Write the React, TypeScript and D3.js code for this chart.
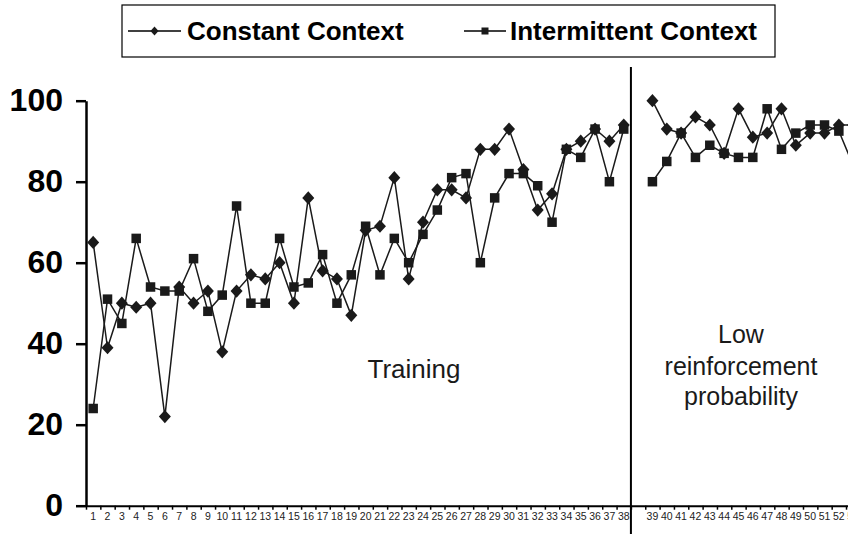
import { useEffect, useRef } from "react"
import * as d3 from "d3"

// session labels (a blank slot sits between the two phases)
const trainingSessions = ["1","2","3","4","5","6","7","8","9","10","11","12","13","14","15","16","17","18","19","20","21","22","23","24","25","26","27","28","29","30","31","32","33","34","35","36","37","38"]
const lowSessions = ["39","40","41","42","43","44","45","46","47","48","49","50","51","52","53"]

const constantTraining = [65, 39, 50, 49, 50, 22, 54, 50, 53, 38, 53, 57, 56, 60, 50, 76, 58, 56, 47, 68, 69, 81, 56, 70, 78, 78, 76, 88, 88, 93, 83, 73, 77, 88, 90, 93, 90, 94]
const intermittentTraining = [24, 51, 45, 66, 54, 53, 53, 61, 48, 52, 74, 50, 50, 66, 54, 55, 62, 50, 57, 69, 57, 66, 60, 67, 73, 81, 82, 60, 76, 82, 82, 79, 70, 88, 86, 93, 80, 93]
const constantLow = [100, 93, 92, 96, 94, 87, 98, 91, 92, 98, 89, 92, 92, 94, 94]
const intermittentLow = [80, 85, 92, 86, 89, 87, 86, 86, 98, 88, 92, 94, 94, 92.5, 84]

const yTicks = [0, 20, 40, 60, 80, 100]

const W = 848
const H = 534
const font = "Arial, 'Liberation Sans', sans-serif"

const App = () => {
  const svgRef = useRef(null)

  useEffect(() => {
    const svg = d3.select(svgRef.current)
    svg.selectAll("*").remove()

    const left = 86
    const step = 14.34
    const keys = [...trainingSessions, "gap", ...lowSessions]

    const x = d3.scaleBand().domain(keys).range([left, left + keys.length * step]).padding(0)
    const xi = d3.scaleLinear().domain([0, keys.length]).range([left, left + keys.length * step])
    const y = d3.scaleLinear().domain([0, 100]).range([505.7, 100.7])
    const cx = (k) => x(k) + x.bandwidth() / 2

    // x axis: boundary ticks
    const xTickAxis = svg.append("g")
      .attr("transform", `translate(0,${y(0)})`)
      .call(d3.axisBottom(xi).tickValues(d3.range(0, keys.length + 1)).tickSize(4).tickFormat(() => "").tickSizeOuter(0))
    xTickAxis.select(".domain").attr("stroke-width", 2)
    xTickAxis.selectAll(".tick line").attr("stroke-width", 1.5)

    // x axis labels
    const xLab = svg.append("g")
      .attr("transform", `translate(0,${y(0)})`)
      .call(d3.axisBottom(x).tickSize(0).tickPadding(7).tickFormat((d) => (d === "gap" ? "" : d)))
    xLab.select(".domain").remove()
    xLab.selectAll("text").attr("font-family", font).attr("font-size", 10.5).attr("fill", "#222")

    // y axis
    const yAx = svg.append("g")
      .attr("transform", `translate(${left},0)`)
      .call(d3.axisLeft(y).tickValues(yTicks).tickSize(10).tickPadding(13).tickSizeOuter(0))
    yAx.select(".domain").attr("stroke-width", 2.5)
    yAx.selectAll(".tick line").attr("stroke-width", 2.5)
    yAx.selectAll("text").attr("font-family", font).attr("font-size", 32).attr("font-weight", "bold").attr("fill", "#000")

    // phase divider
    svg.append("line")
      .attr("x1", x("gap")).attr("x2", x("gap"))
      .attr("y1", 67).attr("y2", H)
      .attr("stroke", "#000").attr("stroke-width", 2)

    const line = d3.line().x((d) => cx(d.k)).y((d) => y(d.v))
    const diamond = (g, px, py, r) =>
      g.append("path")
        .attr("d", `M${px},${py - r * 1.1}L${px + r},${py}L${px},${py + r * 1.1}L${px - r},${py}Z`)
        .attr("fill", "#1a1a1a")
    const square = (g, px, py, s) =>
      g.append("rect")
        .attr("x", px - s / 2).attr("y", py - s / 2)
        .attr("width", s).attr("height", s)
        .attr("fill", "#1a1a1a")

    const series = [
      { vals: [constantTraining, constantLow], shape: "diamond" },
      { vals: [intermittentTraining, intermittentLow], shape: "square" },
    ]
    const plot = svg.append("g")
    series.forEach((s) => {
      const phases = [
        s.vals[0].map((v, i) => ({ k: trainingSessions[i], v })),
        s.vals[1].map((v, i) => ({ k: lowSessions[i], v })),
      ]
      phases.forEach((pts) => {
        plot.append("path").datum(pts)
          .attr("fill", "none").attr("stroke", "#1a1a1a").attr("stroke-width", 1.5)
          .attr("d", line)
      })
    })
    series.forEach((s) => {
      const pts = [
        ...s.vals[0].map((v, i) => ({ k: trainingSessions[i], v })),
        ...s.vals[1].map((v, i) => ({ k: lowSessions[i], v })),
      ]
      pts.forEach((p) => {
        if (s.shape === "diamond") diamond(plot, cx(p.k), y(p.v), 6)
        else square(plot, cx(p.k), y(p.v), 9.5)
      })
    })

    // phase labels
    svg.append("text")
      .attr("x", 414).attr("y", 378)
      .attr("text-anchor", "middle")
      .attr("font-family", font).attr("font-size", 26)
      .attr("fill", "#1a1a1a")
      .text("Training")
    const lowLines = ["Low", "reinforcement", "probability"]
    const lowY = [343, 375, 405]
    lowLines.forEach((t, i) => {
      svg.append("text")
        .attr("x", 741).attr("y", lowY[i])
        .attr("text-anchor", "middle")
        .attr("font-family", font).attr("font-size", 25)
        .attr("fill", "#1a1a1a")
        .text(t)
    })

    // legend
    const lg = svg.append("g")
    lg.append("rect")
      .attr("x", 122).attr("y", 5).attr("width", 653).attr("height", 52)
      .attr("fill", "#fff").attr("stroke", "#000").attr("stroke-width", 1.2)
    const entries = [
      { label: "Constant Context", x0: 128, x1: 181, tx: 187, shape: "diamond" },
      { label: "Intermittent Context", x0: 464, x1: 506, tx: 510, shape: "square" },
    ]
    entries.forEach((e) => {
      const ly = 31
      lg.append("line")
        .attr("x1", e.x0).attr("x2", e.x1).attr("y1", ly).attr("y2", ly)
        .attr("stroke", "#000").attr("stroke-width", 1.5)
      const mx = (e.x0 + e.x1) / 2
      if (e.shape === "diamond") diamond(lg, mx, ly, 4)
      else square(lg, mx, ly, 7)
      lg.append("text")
        .attr("x", e.tx).attr("y", ly)
        .attr("dy", "0.35em")
        .attr("font-family", font).attr("font-size", 26).attr("font-weight", "bold")
        .attr("fill", "#000")
        .text(e.label)
    })
  }, [])

  return (
    <svg
      ref={svgRef}
      width={W}
      height={H}
      style={{ position: "fixed", left: 0, top: 0, background: "#fff", overflow: "hidden" }}
    ></svg>
  )
}

export default App
